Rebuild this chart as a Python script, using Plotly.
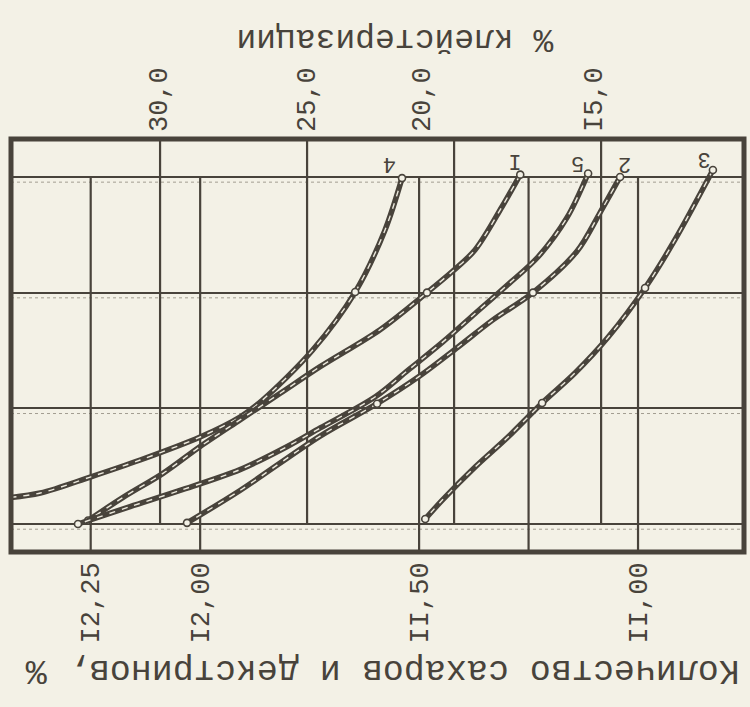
import plotly.graph_objects as go

BG = "#f3f1e6"
INK = "#48433b"
FONT = "Liberation Mono"

# ---- axes -------------------------------------------------------------
# bottom axis: sugars and dextrins, % (decreasing to the right)
x_range = [12.432, 10.758]
x_tickvals = [12.25, 12.00, 11.50, 11.00]
x_ticktext = ["I2,25", "I2,00", "II,50", "II,00"]
bottom_grid = [12.25, 12.00, 11.50, 11.25, 11.00]

# top axis: % gelatinization (decreasing to the right)
top_range = [35.07, 10.14]
top_tickvals = [30.07, 25.03, 21.12, 15.27]
top_ticktext = ["30,0", "25,0", "20,0", "I5,0"]
top_grid = [30, 25, 20, 15]

# unlabeled vertical axis levels
levels = [0, 1, 2, 3]
y_range = [-0.242, 3.328]

# ---- curves -----------------------------------------------------------
curve_labels = ["4", "I", "5", "2", "3"]

x_c4 = [11.539, 11.578, 11.646, 11.744, 11.858, 11.909, 12.000, 12.137, 12.251, 12.365, 12.457]
y_c4 = [2.99, 2.54, 2.005, 1.50, 1.07, 0.925, 0.752, 0.553, 0.406, 0.268, 0.22]
m_c4 = [0, 2]

x_c1 = [11.269, 11.311, 11.372, 11.425, 11.482, 11.589, 11.726, 11.817, 11.909, 12.000, 12.084, 12.176, 12.256]
y_c1 = [3.02, 2.74, 2.37, 2.18, 2.00, 1.68, 1.36, 1.13, 0.90, 0.67, 0.44, 0.23, 0.03]
m_c1 = [0, 4, 12]

x_c5 = [11.114, 11.162, 11.228, 11.297, 11.372, 11.447, 11.525, 11.600, 11.726, 11.801, 11.909, 12.046, 12.160, 12.251, 12.279]
y_c5 = [3.03, 2.65, 2.31, 2.07, 1.82, 1.57, 1.33, 1.10, 0.83, 0.67, 0.47, 0.29, 0.15, 0.035, 0.0]
m_c5 = [0, 14]

x_c2 = [11.041, 11.087, 11.139, 11.240, 11.333, 11.411, 11.502, 11.596, 11.726, 11.909, 12.030]
y_c2 = [3.00, 2.69, 2.36, 2.00, 1.76, 1.53, 1.27, 1.04, 0.76, 0.29, 0.01]
m_c2 = [0, 3, 7, 10]

x_c3 = [10.829, 10.916, 10.984, 11.068, 11.144, 11.219, 11.297, 11.372, 11.447, 11.486]
y_c3 = [3.06, 2.455, 2.04, 1.616, 1.305, 1.046, 0.752, 0.493, 0.207, 0.043]
m_c3 = [0, 2, 5, 9]

curves = [
    ("4", x_c4, y_c4, m_c4, -12, 14),
    ("I", x_c1, y_c1, m_c1, -5, 14),
    ("5", x_c5, y_c5, m_c5, -10, 11),
    ("2", x_c2, y_c2, m_c2, 5, 14),
    ("3", x_c3, y_c3, m_c3, -9, 11),
]

fig = go.Figure()

for name, xs, ys, midx, dx, dy in curves:
    fig.add_trace(go.Scatter(
        x=xs, y=ys, mode="lines", line=dict(color=INK, width=5.5, shape="spline", smoothing=0.9),
        hoverinfo="skip", showlegend=False))
    fig.add_trace(go.Scatter(
        x=xs, y=ys, mode="lines", line=dict(color="#ebe8dc", width=1.4, dash="6px,7px",
                                            shape="spline", smoothing=0.9),
        hoverinfo="skip", showlegend=False))
    fig.add_trace(go.Scatter(
        x=[xs[i] for i in midx], y=[ys[i] for i in midx], mode="markers",
        marker=dict(symbol="circle", size=7, color=BG, line=dict(color=INK, width=1.6)),
        hoverinfo="skip", showlegend=False, cliponaxis=False))

# invisible trace so the top axis exists
fig.add_trace(go.Scatter(x=top_grid, y=[None] * len(top_grid), xaxis="x2", yaxis="y",
                         mode="markers", showlegend=False, hoverinfo="skip"))

shapes = []
for lv in levels:
    shapes.append(dict(type="line", xref="paper", yref="y", x0=0, x1=1, y0=lv - 0.045, y1=lv - 0.045,
                       line=dict(color="#a29d91", width=1, dash="dot"), layer="below"))
for t in top_grid:
    shapes.append(dict(type="line", xref="x2", yref="y", x0=t, x1=t, y0=levels[0], y1=y_range[1],
                       line=dict(color=INK, width=2.2), layer="below"))
for v in bottom_grid:
    shapes.append(dict(type="line", xref="x", yref="y", x0=v, x1=v, y0=y_range[0], y1=levels[-1],
                       line=dict(color=INK, width=2.2), layer="below"))
shapes.append(dict(type="rect", xref="paper", yref="paper", x0=0, x1=1, y0=0, y1=1,
                   line=dict(color=INK, width=5)))

annotations = []
for name, xs, ys, midx, dx, dy in curves:
    annotations.append(dict(x=xs[0], y=ys[0], xref="x", yref="y", text=name, showarrow=False,
                             textangle=180, xshift=dx, yshift=dy,
                             font=dict(family=FONT, size=22, color=INK)))
annotations.append(dict(x=0.524, y=1.245, xref="paper", yref="paper", text="% клейстеризации",
                        showarrow=False, textangle=180, xanchor="center", yanchor="middle",
                        font=dict(family=FONT, size=33, color=INK)))
annotations.append(dict(x=0.506, y=-0.286, xref="paper", yref="paper",
                        text="Количество сахаров и декстринов, %", showarrow=False, textangle=180,
                        xanchor="center", yanchor="middle",
                        font=dict(family=FONT, size=35, color=INK)))

fig.update_layout(
    width=750, height=707,
    margin=dict(l=11, r=6, t=139, b=155),
    paper_bgcolor=BG, plot_bgcolor=BG,
    shapes=shapes, annotations=annotations,
    xaxis=dict(range=x_range, tickvals=x_tickvals, ticktext=x_ticktext, tickangle=-90,
               showgrid=False, zeroline=False, showline=False, ticks="", ticklabelstandoff=4,
               tickfont=dict(family=FONT, size=27, color=INK)),
    xaxis2=dict(range=top_range, overlaying="x", side="top", tickvals=top_tickvals,
                ticktext=top_ticktext, tickangle=-90, showgrid=False, zeroline=False,
                showline=False, ticks="", ticklabelstandoff=6,
                tickfont=dict(family=FONT, size=27, color=INK)),
    yaxis=dict(range=y_range, tickvals=levels, showticklabels=False, showgrid=True,
               gridcolor=INK, gridwidth=2.2, zeroline=False, showline=False, ticks=""),
)

fig.write_html(
    "out.html",
    config={"displayModeBar": False},
    post_script="document.body.style.margin='0';document.body.style.background='#f3f1e6';",
)
